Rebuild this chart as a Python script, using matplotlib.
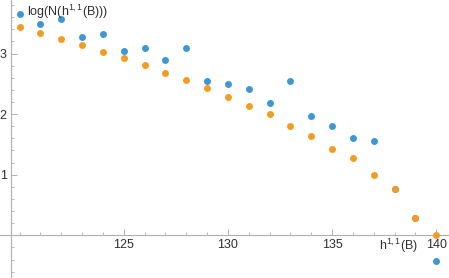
import numpy as np
import matplotlib.pyplot as plt
from matplotlib.ticker import MultipleLocator, FixedLocator

plt.rcParams['font.family'] = ['Liberation Sans', 'DejaVu Sans']
plt.rcParams['mathtext.fontset'] = 'custom'
plt.rcParams['mathtext.rm'] = 'Liberation Sans'
plt.rcParams['mathtext.it'] = 'Liberation Sans'

# h^{1,1}(B) values
h11 = np.arange(120, 141)
# log of counts (blue) and fitted curve (orange)
log_n = [3.66, 3.49, 3.57, 3.28, 3.32, 3.04, 3.09, 2.89, 3.09, 2.54, 2.50,
         2.41, 2.19, 2.54, 1.97, 1.81, 1.61, 1.55, 0.76, 0.29, -0.42]
log_fit = [3.44, 3.34, 3.24, 3.14, 3.03, 2.92, 2.81, 2.68, 2.56, 2.43, 2.29,
           2.14, 2.00, 1.81, 1.64, 1.43, 1.28, 0.995, 0.77, 0.29, 0.0]

blue = '#3d97d3'
orange = '#f19c22'
axcol = '#b0b0b0'
txtcol = '#303030'

fig = plt.figure(figsize=(4.49, 2.78), dpi=100)
ax = fig.add_axes([0, 0, 1, 1])
ax.set_xlim(119.06, 140.61)
ax.set_ylim(-0.705, 3.883)

ax.scatter(h11, log_n, s=25, color=blue, zorder=3, linewidths=0)
ax.scatter(h11, log_fit, s=25, color=orange, zorder=4, linewidths=0)

for s in ['top', 'right']:
    ax.spines[s].set_visible(False)
ax.spines['left'].set_position(('data', 119.58))
ax.spines['bottom'].set_position(('data', 0))
for s in ['left', 'bottom']:
    ax.spines[s].set_color(axcol)
    ax.spines[s].set_linewidth(0.8)

ax.xaxis.set_major_locator(FixedLocator([125, 130, 135, 140]))
ax.xaxis.set_minor_locator(MultipleLocator(1))
ax.yaxis.set_major_locator(FixedLocator([1, 2, 3]))
ax.yaxis.set_minor_locator(MultipleLocator(0.2))

ax.tick_params(axis='x', which='major', direction='in', length=4, width=0.7,
               color=axcol, labelsize=9, labelcolor=txtcol, pad=3)
ax.tick_params(axis='x', which='minor', direction='in', length=2.5, width=0.6, color=axcol)
ax.tick_params(axis='y', which='major', direction='in', length=4, width=0.7,
               color=axcol, labelsize=9, labelcolor=txtcol, pad=3)
ax.tick_params(axis='y', which='minor', direction='in', length=2.5, width=0.6, color=axcol)

fig.text(27 / 449, 1 - 12 / 278, r'log(N(h$^{1,1}$(B)))', fontsize=9, color=txtcol,
         va='center', ha='left')
fig.text(418 / 449, 1 - 246 / 278, r'h$^{1,1}$(B)', fontsize=9, color=txtcol,
         va='center', ha='right')

fig.savefig('out.png', dpi=100)
